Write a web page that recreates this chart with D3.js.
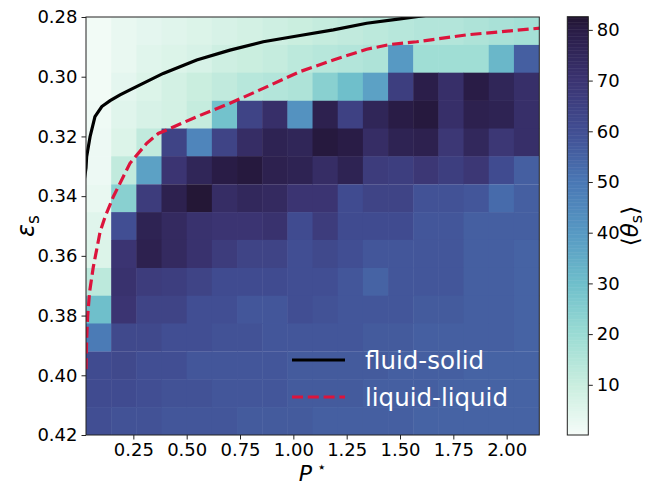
<!DOCTYPE html>
<html><head><meta charset="utf-8">
<script src="https://cdn.jsdelivr.net/npm/d3@7"></script>
<style>body{margin:0;background:#fff}svg{display:block}text{font-family:"DejaVu Sans",sans-serif}</style>
</head><body><svg id="c" width="648" height="485"></svg>
<script>
// ---- data ----
const pCenters = [0.087,0.205,0.323,0.441,0.559,0.677,0.795,0.913,1.031,1.149,1.267,1.385,1.503,1.621,1.739,1.857,1.975,2.093];
const epsCenters = [0.2847,0.2940,0.3033,0.3127,0.3220,0.3313,0.3407,0.3500,0.3593,0.3687,0.3780,0.3873,0.3967,0.4060,0.4153];
const theta = [
 [1,3,4,5,6,7,8,9,10,11,12,13,14,15,15,16,17,18],
 [1,3,5,6,7,9,10,11,13,14,15,16,40,19,19,19,32,56],
 [1,4,6,8,10,12,14,15,16,24,30,38,66,79,72,80,76,72],
 [1.5,5,7,8,11,29,64,72,42,78,65,76,80,81,72,78,77,72],
 [2,6,12,64,46,64,73,77,76,81,80,73,77,78,69,75,69,72],
 [2,12,38,70,76,80,81,78,77,73,77,67,66,69,66,69,61,56],
 [3,24,67,78,82,73,75,74,70,70,61,64,64,59,59,58,53,56],
 [5,60,77,74,71,70,70,71,61,67,61,61,61,58,58,56,56,56],
 [6,70,78,74,71,67,64,64,60,62,60,58,58,58,58,56,56,55],
 [13,71,67,66,64,61,61,61,60,60,58,55,58,58,58,56,56,55],
 [30,70,64,64,60,60,58,58,60,59,58,58,58,57,57,56,56,55],
 [49,62,62,60,60,59,59,58,58,58,58,57,57,56,56,56,56,55],
 [61,62,60,60,58,58,58,58,57,57,57,57,56,56,56,55,55,55],
 [61,61,60,59,59,58,58,58,57,57,57,56,56,56,55,55,55,55],
 [60,59,59,58,58,58,57,57,57,56,56,56,56,55,55,55,55,55]
];
const fluidSolidP = [0.020,0.028,0.031,0.047,0.070,0.102,0.141,0.1875,0.234,0.39,0.547,0.703,0.859,1.031,1.1875,1.344,1.5,1.62];
const fluidSolidE = [0.3345,0.3305,0.3268,0.3201,0.3134,0.3100,0.3080,0.3061,0.3044,0.2989,0.2944,0.2911,0.2883,0.2862,0.2843,0.2821,0.2806,0.2795];
const liqLiqP = [0.028,0.031,0.036,0.045,0.0625,0.094,0.117,0.156,0.234,0.3125,0.367,0.398,0.547,0.703,0.859,1.031,1.1875,1.344,1.453,1.578,1.81,2.16];
const liqLiqE = [0.398,0.388,0.380,0.372,0.3636,0.352,0.347,0.3402,0.329,0.3223,0.319,0.3181,0.3134,0.3089,0.3039,0.2983,0.2944,0.2908,0.2892,0.2883,0.286,0.2837];
const xTicks = [0.25,0.50,0.75,1.00,1.25,1.50,1.75,2.00];
const yTicks = [0.28,0.30,0.32,0.34,0.36,0.38,0.40,0.42];
const cbTicks = [10,20,30,40,50,60,70,80];
const cmapVals = [0,10,20,30,40,50,60,70,80,82.6];
const cmapCols = ["#f6fcf9","#caeedf","#9bdcd4","#6fbfcb","#5799c3","#4a78b5","#414e93","#3b3472","#291c46","#221531"];
const legendLabels = ["fluid-solid","liquid-liquid"];

// ---- layout ----
const svg = d3.select("#c");
const L=86, R=539.3, T=17, B=435;
const x = d3.scaleLinear().domain([0.028,2.153]).range([L,R]);
const y = d3.scaleLinear().domain([0.28,0.42]).range([T,B]);
const color = d3.scaleLinear().domain(cmapVals).range(cmapCols).clamp(true);
const dp = pCenters[1]-pCenters[0], de = epsCenters[1]-epsCenters[0];

svg.append("defs").append("clipPath").attr("id","pc").append("rect")
  .attr("x",L).attr("y",T).attr("width",R-L).attr("height",B-T);

const cells=[];
theta.forEach((row,j)=>row.forEach((v,i)=>cells.push({p:pCenters[i],e:epsCenters[j],v})));
svg.append("g").attr("clip-path","url(#pc)").selectAll("rect").data(cells).join("rect")
  .attr("x",d=>x(d.p-dp/2)).attr("y",d=>y(d.e-de/2))
  .attr("width",d=>x(d.p+dp/2)-x(d.p-dp/2)+0.5).attr("height",d=>y(d.e+de/2)-y(d.e-de/2)+0.5)
  .attr("fill",d=>color(d.v));

const line = d3.line().x(d=>x(d[0])).y(d=>y(d[1]));
const lines = svg.append("g").attr("clip-path","url(#pc)");
lines.append("path").datum(fluidSolidP.map((p,i)=>[p,fluidSolidE[i]]))
  .attr("d",line).attr("fill","none").attr("stroke","#000").attr("stroke-width",3.2);
lines.append("path").datum(liqLiqP.map((p,i)=>[p,liqLiqE[i]]))
  .attr("d",line).attr("fill","none").attr("stroke","#dc143c").attr("stroke-width",3.2)
  .attr("stroke-dasharray","11,4.8");

// frame
svg.append("rect").attr("x",L).attr("y",T).attr("width",R-L).attr("height",B-T)
  .attr("fill","none").attr("stroke","#222").attr("stroke-width",1);

// axes
const xa = svg.append("g").attr("transform",`translate(0,${B})`)
  .call(d3.axisBottom(x).tickValues(xTicks).tickFormat(d3.format(".2f")).tickSize(4.5).tickPadding(3.5));
const ya = svg.append("g").attr("transform",`translate(${L},0)`)
  .call(d3.axisLeft(y).tickValues(yTicks).tickFormat(d3.format(".2f")).tickSize(4.5).tickPadding(4));
[xa,ya].forEach(a=>{a.select(".domain").remove();a.selectAll("text").attr("font-size",18).attr("font-family","DejaVu Sans").attr("fill","#000");a.selectAll("line").attr("stroke","#222");});

// axis labels
const xl = svg.append("text").attr("x",(L+R)/2).attr("y",481).attr("text-anchor","middle").attr("font-size",22);
xl.append("tspan").attr("font-style","italic").text("P");
xl.append("tspan").attr("dx",5).attr("dy",-9).attr("font-size",15).text("⋆");
const yl = svg.append("text").attr("transform",`translate(34,${(T+B)/2}) rotate(-90)`).attr("text-anchor","middle").attr("font-size",24);
yl.append("tspan").attr("font-style","italic").text("ε");
yl.append("tspan").attr("dy",5).attr("font-size",17).text("s");

// legend
const leg = svg.append("g");
[[360,"#000",null],[397,"#dc143c","11,4.8"]].forEach((s,i)=>{
  leg.append("line").attr("x1",292).attr("x2",345).attr("y1",s[0]).attr("y2",s[0])
    .attr("stroke",s[1]).attr("stroke-width",3.2).attr("stroke-dasharray",s[2]);
  leg.append("text").attr("x",365).attr("y",s[0]+8.5).attr("font-size",24.5).attr("fill","#fff").text(legendLabels[i]);
});

// colorbar
const cbL=567.3, cbR=588.3, cbT=16.7, cbB=435;
const cy = d3.scaleLinear().domain([0.1,82.6]).range([cbB,cbT]);
const n=300, cbg=svg.append("g");
d3.range(n).forEach(k=>{
  const v0 = 0.1 + (82.6-0.1)*k/n, v1 = 0.1 + (82.6-0.1)*(k+1)/n;
  cbg.append("rect").attr("x",cbL).attr("width",cbR-cbL).attr("y",cy(v1)).attr("height",cy(v0)-cy(v1)+0.5)
    .attr("fill",color((v0+v1)/2));
});
svg.append("rect").attr("x",cbL).attr("y",cbT).attr("width",cbR-cbL).attr("height",cbB-cbT)
  .attr("fill","none").attr("stroke","#222").attr("stroke-width",1);
const ca = svg.append("g").attr("transform",`translate(${cbR},0)`)
  .call(d3.axisRight(cy).tickValues(cbTicks).tickSize(4.5).tickPadding(4));
ca.select(".domain").remove();
ca.selectAll("text").attr("font-size",18).attr("font-family","DejaVu Sans").attr("fill","#000");
ca.selectAll("line").attr("stroke","#222");
const cl = svg.append("text").attr("transform",`translate(638,${(T+B)/2}) rotate(-90)`).attr("text-anchor","middle").attr("font-size",23);
cl.append("tspan").text("⟨");
cl.append("tspan").attr("font-style","italic").text("θ");
cl.append("tspan").attr("dy",4).attr("font-size",16).text("s");
cl.append("tspan").attr("dy",-4).text("⟩");
</script></body></html>
